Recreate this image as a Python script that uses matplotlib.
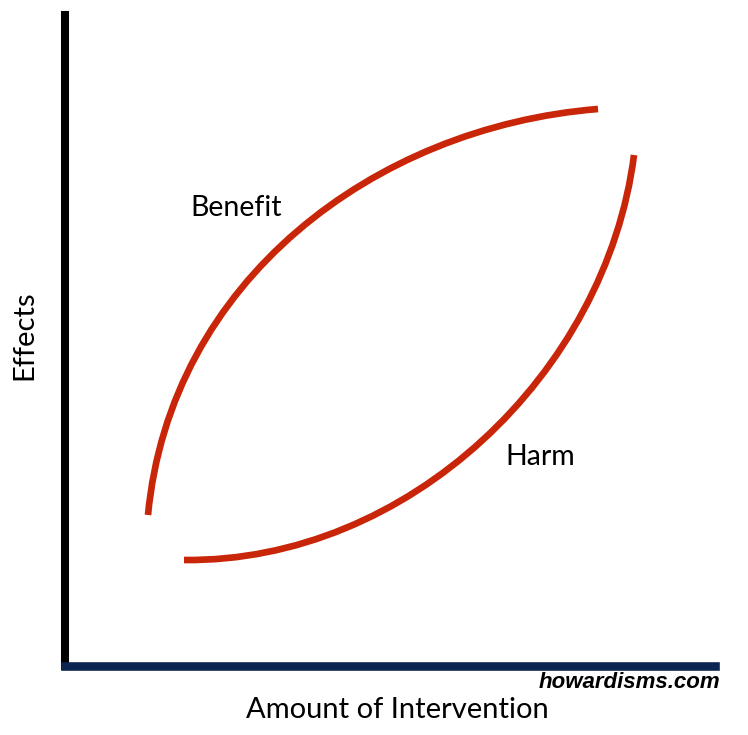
import matplotlib
matplotlib.use("Agg")
import matplotlib.pyplot as plt
import numpy as np
from matplotlib.path import Path
from matplotlib.patches import PathPatch

# curve points (pixel coords, y down)
benefit_x = [148, 153, 160, 170, 182, 195, 210, 228, 250, 273, 300, 330, 363, 400, 440, 480, 520, 560, 598]
benefit_y = [515, 480, 447, 414, 385, 359, 333, 305, 278, 252, 228, 205, 184, 164, 147, 132, 120, 113, 109]

harm_x = [184, 225, 275, 325, 375, 425, 468, 508, 542, 572, 595, 608, 618, 626, 631, 634]
harm_y = [560, 558, 550, 537, 515, 485, 452, 415, 375, 332, 290, 258, 225, 192, 170, 155]

red = "#c92508"
navy = "#0c2550"
label_font = "Lato"


def bezier_fit(xs, ys):
    # one cubic bezier through the end points, handles fitted to the rest
    P = np.column_stack([xs, ys]).astype(float)
    d = np.r_[0, np.cumsum(np.hypot(*np.diff(P, axis=0).T))]
    t = d / d[-1]
    for _ in range(20):
        b = np.column_stack([(1 - t) ** 3, 3 * (1 - t) ** 2 * t, 3 * (1 - t) * t ** 2, t ** 3])
        R = P - np.outer(b[:, 0], P[0]) - np.outer(b[:, 3], P[-1])
        C = np.linalg.lstsq(b[:, 1:3], R, rcond=None)[0]
        ctrl = np.vstack([P[0], C, P[-1]])
        # re-parametrise: nearest curve point for each reading
        tt = np.linspace(0, 1, 2001)
        bb = np.column_stack([(1 - tt) ** 3, 3 * (1 - tt) ** 2 * tt, 3 * (1 - tt) * tt ** 2, tt ** 3])
        curve = bb @ ctrl
        dist = ((P[:, None, :] - curve[None, :, :]) ** 2).sum(axis=2)
        t = tt[dist.argmin(axis=1)]
        t[0], t[-1] = 0.0, 1.0
    return Path(ctrl, [Path.MOVETO, Path.CURVE4, Path.CURVE4, Path.CURVE4])


fig = plt.figure(figsize=(7.48, 7.35), dpi=100)
ax = fig.add_axes([65 / 748, (735 - 666) / 735, (718 - 65) / 748, (666 - 15) / 735])
ax.set_xlim(65, 718)
ax.set_ylim(666, 15)

for xs, ys in [(benefit_x, benefit_y), (harm_x, harm_y)]:
    ax.add_patch(PathPatch(bezier_fit(xs, ys), facecolor="none", edgecolor=red,
                           lw=4.8, capstyle="butt"))

for s in ["top", "right"]:
    ax.spines[s].set_visible(False)
ax.spines["left"].set_color("black")
ax.spines["left"].set_linewidth(5.8)
ax.spines["bottom"].set_color(navy)
ax.spines["bottom"].set_linewidth(6.2)
ax.spines["bottom"].set_zorder(3)
ax.spines["bottom"].set_bounds(65, 715)
ax.set_xticks([])
ax.set_yticks([])

ax.text(236, 208, "Benefit", fontsize=20.5, family=label_font, ha="center", va="center")
ax.text(505, 457, "Harm", fontsize=20.5, family=label_font, ha="left", va="center")
ax.text(24, 335, "Effects", fontsize=21, family=label_font, ha="center", va="center",
        rotation=90, clip_on=False)
ax.text(397, 710, "Amount of Intervention", fontsize=21, family=label_font,
        ha="center", va="center", clip_on=False)
ax.text(720, 683, "howardisms.com", fontsize=16, family="Liberation Sans",
        fontweight="bold", fontstyle="italic", ha="right", va="center", clip_on=False)

fig.savefig("out.png", dpi=100)
